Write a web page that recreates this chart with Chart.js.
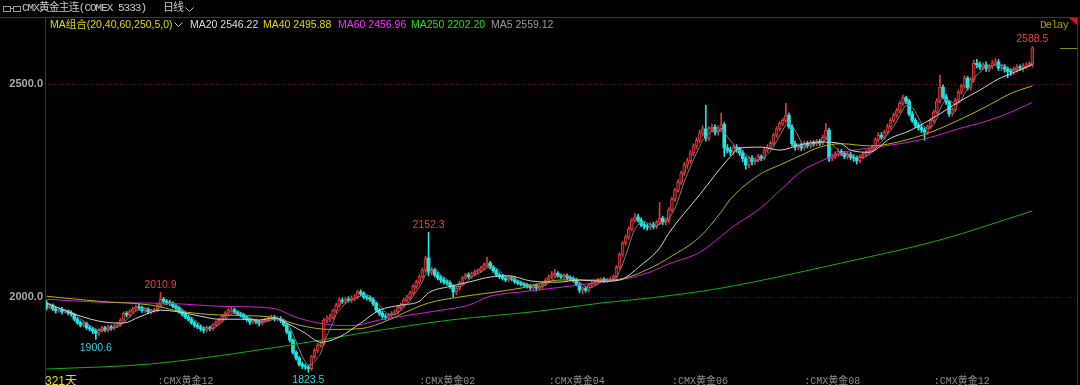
<!DOCTYPE html>
<html>
<head>
<meta charset="utf-8">
<script src="https://cdn.jsdelivr.net/npm/chart.js@4.4.1/dist/chart.umd.min.js"></script>
<style>
  html, body { margin: 0; padding: 0; background: #000; }
  #wrap { position: relative; width: 1080px; height: 385px; overflow: hidden; background: #000; }
  #c { position: absolute; left: 0; top: 0; }
  .t { position: absolute; white-space: nowrap; line-height: 1; }
  .mono { font-family: "Liberation Mono", "Noto Sans CJK SC", monospace; font-size: 11px; letter-spacing: -1px; }
  .lg { font-family: "Liberation Sans", "Noto Sans CJK SC", sans-serif; font-size: 10.5px; top: 19px; }
  .ln { position: absolute; background: #8e1212; }
</style>
</head>
<body>
<div id="wrap">
  <canvas id="c" width="1080" height="385"></canvas>

  <!-- header -->
  <div style="position:absolute;left:3px;top:6px;width:6px;height:4px;border:1px solid #9a9a9a;"></div>
  <div style="position:absolute;left:10px;top:8px;width:3px;height:1px;background:#9a9a9a;"></div>
  <div style="position:absolute;left:13px;top:6px;width:6px;height:4px;border:1px solid #9a9a9a;"></div>
  <div class="t mono" style="left:22px;top:3px;color:#c8c8c8;">CMX黄金主连(COMEX 5333)</div>
  <div class="t mono" style="left:163px;top:3px;color:#c8c8c8;">日线</div>
  <svg style="position:absolute;left:185px;top:7px" width="9" height="6"><polyline points="0.5,0.5 4.5,4.5 8.5,0.5" fill="none" stroke="#c8c8c8" stroke-width="1"/></svg>
  <div class="ln" style="left:0;top:17px;width:1080px;height:1px;"></div>
  <div class="ln" style="left:45px;top:17px;width:1px;height:368px;"></div>
  <div class="ln" style="left:1077px;top:17px;width:1px;height:368px;"></div>
  <div style="position:absolute;left:1069px;top:18px;width:0;height:0;border-top:7px solid #d01818;border-left:8px solid transparent;"></div>

  <!-- legend -->
  <div class="t lg" style="left:50px;color:#dcdc00;">MA组合(20,40,60,250,5,0)</div>
  <svg style="position:absolute;left:174px;top:22px" width="9" height="6"><polyline points="0.5,0.5 4.5,4.5 8.5,0.5" fill="none" stroke="#c8c8c8" stroke-width="1"/></svg>
  <div class="t lg" style="left:190px;color:#dcdcdc;">MA20 2546.22</div>
  <div class="t lg" style="left:263px;color:#dcdc00;">MA40 2495.88</div>
  <div class="t lg" style="left:338px;color:#ff2cff;">MA60 2456.96</div>
  <div class="t lg" style="left:411px;color:#1ee01e;">MA250 2202.20</div>
  <div class="t lg" style="left:491px;color:#9a9a9a;">MA5 2559.12</div>
  <div class="t mono" style="left:1040px;top:20px;color:#a0a000;">Delay</div>

  <div class="t" style="left:45px;top:371px;color:#e0e000;font:12px 'Liberation Sans','Noto Sans CJK SC',sans-serif;">321天</div>
</div>

<script>
// daily candles, oldest first (321 days)
var opens = [
  1986,1975,1980,1972,1968,1971,1965,1968,1963,1960,
  1948,1940,1934,1938,1928,1925,1920,1915,1922,1928,
  1924,1930,1927,1933,1935,1946,1962,1958,1966,1972,
  1977,1975,1968,1972,1965,1968,1970,1982,1995,1990,
  1987,1985,1978,1974,1966,1960,1953,1948,1940,1934,
  1930,1925,1922,1928,1926,1935,1941,1946,1955,1962,
  1969,1970,1965,1960,1958,1952,1947,1941,1945,1942,
  1939,1944,1946,1950,1953,1948,1950,1945,1935,1918,
  1899,1870,1857,1842,1838,1836,1832,1860,1875,1887,
  1890,1946,1948,1953,1968,1981,1993,1990,1995,1993,
  1998,2000,2012,2008,2000,1998,1995,1985,1969,1962,
  1955,1953,1958,1962,1965,1975,1981,1993,2000,2010,
  2025,2035,2048,2063,2092,2058,2063,2052,2045,2040,
  2035,2033,2025,2012,2020,2033,2045,2052,2048,2055,
  2059,2062,2068,2075,2080,2070,2062,2052,2048,2044,
  2040,2045,2042,2036,2033,2030,2028,2025,2022,2027,
  2021,2025,2030,2040,2047,2052,2056,2050,2047,2050,
  2045,2043,2040,2030,2016,2020,2016,2028,2032,2036,
  2040,2042,2038,2040,2043,2048,2070,2100,2127,2141,
  2160,2181,2188,2180,2170,2166,2164,2170,2165,2175,
  2185,2176,2180,2205,2230,2251,2270,2291,2310,2320,
  2338,2355,2368,2385,2395,2373,2395,2399,2387,2395,
  2405,2350,2345,2340,2352,2348,2338,2325,2310,2326,
  2318,2322,2330,2326,2345,2352,2361,2380,2395,2408,
  2415,2427,2400,2360,2352,2355,2350,2361,2356,2362,
  2360,2365,2362,2375,2392,2326,2330,2335,2342,2338,
  2330,2335,2328,2326,2320,2330,2335,2340,2345,2350,
  2370,2380,2375,2387,2400,2415,2427,2438,2455,2468,
  2460,2430,2415,2404,2398,2392,2387,2400,2415,2434,
  2460,2493,2470,2458,2430,2440,2462,2481,2495,2514,
  2491,2510,2549,2545,2540,2545,2537,2542,2550,2552,
  2538,2540,2535,2530,2528,2535,2540,2538,2543,2545,
  2546
];
var highs = [
  1992,1985,1984,1976,1975,1976,1972,1970,1968,1962,
  1952,1944,1942,1941,1933,1929,1924,1926,1932,1932,
  1934,1934,1937,1940,1950,1965,1966,1970,1976,1982,
  1983,1979,1976,1975,1971,1974,1986,2010.9,1999,1994,
  1992,1989,1982,1978,1970,1964,1957,1952,1944,1938,
  1934,1929,1932,1932,1938,1944,1950,1958,1966,1973,
  1976,1974,1968,1964,1962,1956,1950,1949,1948,1946,
  1948,1950,1954,1958,1957,1954,1954,1948,1938,1921,
  1902,1874,1860,1847,1843,1840,1863,1879,1891,1895,
  1950,1956,1960,1972,1985,1998,1998,2000,2001,2003,
  2006,2016,2017,2012,2005,2003,1999,1989,1974,1967,
  1960,1962,1966,1970,1979,1986,1997,2004,2014,2029,
  2040,2052,2068,2096,2152.3,2070,2068,2058,2050,2046,
  2040,2038,2028,2024,2037,2049,2056,2057,2059,2064,
  2066,2072,2080,2094,2084,2074,2066,2057,2053,2048,
  2050,2049,2046,2040,2037,2034,2032,2030,2031,2031,
  2029,2034,2044,2052,2060,2065,2060,2054,2054,2054,
  2050,2048,2044,2034,2024,2025,2031,2036,2039,2044,
  2046,2046,2044,2047,2052,2074,2104,2131,2146,2165,
  2185,2196,2194,2186,2176,2172,2175,2176,2180,2222,
  2190,2186,2210,2235,2256,2276,2296,2316,2326,2344,
  2360,2374,2392,2402,2450,2400,2406,2405,2402,2432,
  2410,2358,2352,2358,2358,2352,2344,2330,2330,2332,
  2327,2335,2334,2350,2358,2366,2385,2400,2412,2420,
  2455,2432,2405,2366,2360,2362,2366,2366,2368,2367,
  2370,2370,2380,2408,2397,2336,2341,2348,2347,2342,
  2340,2340,2334,2331,2334,2340,2345,2350,2356,2374,
  2386,2386,2392,2406,2420,2432,2443,2460,2474,2472,
  2464,2436,2420,2410,2404,2397,2404,2420,2439,2466,
  2521,2498,2476,2462,2445,2467,2486,2500,2520,2518,
  2515,2556,2558,2552,2550,2552,2546,2556,2560,2558,
  2546,2546,2540,2536,2540,2546,2545,2548,2550,2552,
  2588.5
];
var lows = [
  1970,1972,1968,1962,1964,1960,1962,1958,1955,1944,
  1936,1930,1930,1924,1920,1914,1900.6,1910,1918,1919,
  1918,1922,1923,1928,1931,1943,1953,1954,1962,1968,
  1970,1964,1964,1961,1960,1964,1966,1979,1985,1982,
  1980,1975,1969,1962,1955,1949,1944,1936,1929,1926,
  1920,1916,1918,1921,1922,1931,1937,1942,1951,1958,
  1964,1961,1956,1953,1948,1943,1936,1937,1937,1932,
  1935,1940,1942,1946,1944,1943,1940,1931,1914,1894,
  1866,1852,1838,1832,1830,1823.5,1828,1855,1870,1882,
  1886,1940,1943,1948,1963,1976,1985,1984,1988,1987,
  1992,1996,2003,1996,1993,1990,1980,1965,1957,1950,
  1946,1948,1953,1957,1960,1971,1977,1988,1995,2006,
  2020,2030,2044,2058,2050,2052,2047,2040,2034,2030,
  2028,2020,2000,2005,2016,2029,2041,2043,2044,2050,
  2054,2058,2064,2071,2066,2058,2048,2043,2040,2036,
  2036,2038,2032,2029,2026,2024,2021,2017,2018,2014,
  2016,2020,2026,2036,2043,2048,2046,2043,2042,2041,
  2038,2035,2026,2010,2007,2011,2012,2024,2028,2032,
  2035,2034,2034,2036,2039,2044,2066,2095,2122,2136,
  2155,2176,2176,2165,2160,2157,2158,2160,2161,2170,
  2170,2170,2175,2200,2224,2246,2264,2286,2302,2314,
  2332,2348,2362,2378,2366,2368,2388,2380,2380,2388,
  2330,2338,2332,2334,2340,2332,2318,2300,2304,2310,
  2312,2317,2320,2322,2340,2347,2356,2375,2390,2403,
  2410,2396,2355,2345,2346,2344,2346,2350,2350,2354,
  2355,2356,2358,2370,2318,2320,2325,2330,2332,2325,
  2324,2322,2318,2312,2315,2325,2330,2336,2340,2346,
  2365,2370,2370,2382,2395,2410,2422,2433,2450,2454,
  2425,2410,2398,2392,2386,2368,2382,2395,2410,2430,
  2455,2465,2452,2424,2425,2435,2457,2476,2490,2486,
  2486,2505,2538,2534,2533,2530,2530,2536,2544,2532,
  2532,2528,2515,2520,2522,2528,2532,2530,2536,2540,
  2540
];
var closes = [
  1975,1980,1972,1968,1971,1965,1968,1963,1960,1948,
  1940,1934,1938,1928,1925,1920,1915,1922,1928,1924,
  1930,1927,1933,1935,1946,1962,1958,1966,1972,1977,
  1975,1968,1972,1965,1968,1970,1982,1995,1990,1987,
  1985,1978,1974,1966,1960,1953,1948,1940,1934,1930,
  1925,1922,1928,1926,1935,1941,1946,1955,1962,1969,
  1970,1965,1960,1958,1952,1947,1941,1945,1942,1939,
  1944,1946,1950,1953,1948,1950,1945,1935,1918,1899,
  1870,1857,1842,1838,1836,1832,1860,1875,1887,1890,
  1946,1948,1953,1968,1981,1993,1990,1995,1993,1998,
  2000,2012,2008,2000,1998,1995,1985,1969,1962,1955,
  1953,1958,1962,1965,1975,1981,1993,2000,2010,2025,
  2035,2048,2063,2090,2058,2063,2052,2045,2040,2035,
  2033,2025,2012,2020,2033,2045,2052,2048,2055,2059,
  2062,2068,2075,2080,2070,2062,2052,2048,2044,2040,
  2045,2042,2036,2033,2030,2028,2025,2022,2027,2021,
  2025,2030,2040,2047,2052,2056,2050,2047,2050,2045,
  2043,2040,2030,2016,2020,2016,2028,2032,2036,2040,
  2042,2038,2040,2043,2048,2070,2100,2127,2141,2160,
  2181,2188,2180,2170,2166,2164,2170,2165,2175,2185,
  2176,2180,2205,2230,2251,2270,2291,2310,2320,2338,
  2355,2368,2385,2395,2373,2395,2399,2387,2395,2405,
  2350,2345,2340,2352,2348,2338,2325,2310,2326,2318,
  2322,2330,2326,2345,2352,2361,2380,2395,2408,2415,
  2427,2400,2360,2352,2355,2350,2361,2356,2362,2360,
  2365,2362,2375,2392,2326,2330,2335,2342,2338,2330,
  2335,2328,2326,2320,2330,2335,2340,2345,2350,2370,
  2380,2375,2387,2400,2415,2427,2438,2455,2468,2460,
  2430,2415,2404,2398,2392,2387,2400,2415,2434,2460,
  2493,2470,2458,2430,2440,2462,2481,2495,2514,2491,
  2510,2549,2545,2540,2545,2537,2542,2550,2552,2538,
  2540,2535,2530,2528,2535,2540,2538,2543,2545,2548,
  2585
];

// moving averages: [day index, value]
var ma20 = [[0,1986],[9,1960],[19,1941],[25,1939],[30,1953],[37,1969],[43,1965],[50,1955],[56,1948],
  [63,1948],[69,1946],[74,1951],[78,1939],[84,1915],[89,1894],[95,1906],[102,1939],[108,1969],[115,1981],
  [121,1990],[124,2010],[131,2025],[137,2035],[144,2047],[150,2050],[157,2038],[166,2035],[173,2040],
  [180,2037],[186,2040],[193,2075],[199,2115],[202,2150],[212,2240],[222,2330],[225,2350],[232,2352],
  [238,2345],[245,2358],[251,2364],[258,2360],[261,2345],[267,2340],[274,2373],[280,2390],[290,2430],
  [296,2458],[303,2486],[309,2512],[316,2533],[320,2546.22]];
var ma40 = [[0,2002],[17,1990],[34,1981],[43,1967],[56,1958],[73,1953],[82,1934],[92,1924],[102,1926],
  [111,1946],[118,1969],[124,1986],[134,2000],[144,2010],[154,2021],[167,2040],[180,2040],[186,2042],
  [196,2068],[202,2092],[212,2141],[219,2200],[222,2230],[232,2290],[238,2310],[245,2333],[251,2352],
  [258,2360],[267,2355],[283,2377],[296,2415],[306,2451],[313,2478],[320,2495.88]];
var ma60 = [[0,1995],[17,1988],[40,1985],[58,1978],[73,1974],[82,1950],[92,1935],[99,1933],[108,1946],
  [118,1958],[128,1969],[137,1981],[144,2002],[154,2012],[167,2023],[180,2035],[186,2040],[196,2059],
  [202,2078],[212,2105],[223,2166],[232,2210],[238,2250],[245,2295],[251,2318],[259,2340],[267,2350],
  [277,2360],[287,2375],[296,2395],[306,2415],[313,2434],[320,2456.96]];
var ma250 = [[0,1831],[34,1843],[79,1887],[102,1915],[131,1946],[160,1967],[180,1986],[196,1998],
  [219,2021],[258,2080],[290,2134],[320,2202.20]];

var yTicks = [2000, 2500];
var xTickIdx = [36, 121, 163, 203, 246, 288];
var xTickText = [':CMX黄金12', ':CMX黄金02', ':CMX黄金04', ':CMX黄金06', ':CMX黄金08', ':CMX黄金12'];
var markHigh = [37, 124, 320];
var markLow = [16, 85];

var UP = '#d83c3c', UPFILL = '#5a1414', DOWN = '#1ee6e6';

var up = closes.map(function(c, i) { return c >= opens[i]; });
var bodyData = closes.map(function(c, i) { return {x: i, y: [opens[i], c]}; });
var wickData = closes.map(function(c, i) { return {x: i, y: [lows[i], highs[i]]}; });
var ma5 = [];
for (var i = 4; i < closes.length; i++) {
  var s = 0;
  for (var k = i - 4; k <= i; k++) s += closes[k];
  ma5.push({x: i, y: s / 5});
}
function pts(a) { return a.map(function(p) { return {x: p[0], y: p[1]}; }); }
function maLine(data, color, order) {
  return { type: 'line', data: data, borderColor: color, borderWidth: 1, pointRadius: 0,
           cubicInterpolationMode: 'monotone', order: order };
}

var markPlugin = {
  id: 'marks',
  afterDatasetsDraw: function(chart) {
    var ctx = chart.ctx, x = chart.scales.x, y = chart.scales.y;
    ctx.save();
    ctx.font = '10.5px "Liberation Sans", sans-serif';
    ctx.textAlign = 'center';
    markHigh.forEach(function(i) {
      ctx.fillStyle = '#e8413c';
      ctx.textBaseline = 'bottom';
      ctx.fillText(highs[i].toFixed(1), x.getPixelForValue(i), y.getPixelForValue(highs[i]) - 2);
    });
    markLow.forEach(function(i) {
      ctx.fillStyle = '#2fd6dc';
      ctx.textBaseline = 'top';
      ctx.fillText(lows[i].toFixed(1), x.getPixelForValue(i), y.getPixelForValue(lows[i]) + 3);
    });
    // last price marker on the right edge
    var ly = Math.round(y.getPixelForValue(closes[closes.length - 1])) + 0.5;
    ctx.strokeStyle = '#8a8a00';
    ctx.lineWidth = 1;
    ctx.beginPath(); ctx.moveTo(1060, ly); ctx.lineTo(1077, ly); ctx.stroke();
    ctx.restore();
  }
};

Chart.defaults.font.family = '"Liberation Sans", sans-serif';

var chart = new Chart(document.getElementById('c').getContext('2d'), {
  data: {
    datasets: [
      { type: 'bar', data: wickData, grouped: false, barThickness: 1, order: 6,
        backgroundColor: up.map(function(u) { return u ? UP : DOWN; }) },
      { type: 'bar', data: bodyData, grouped: false, barThickness: 3, order: 5, borderSkipped: false,
        backgroundColor: up.map(function(u) { return u ? UPFILL : DOWN; }),
        borderColor: up.map(function(u) { return u ? UP : DOWN; }),
        borderWidth: up.map(function(u) { return u ? 1 : 0; }) },
      maLine(pts(ma250), '#0fb00f', 4),
      maLine(pts(ma60), '#d21ed2', 3),
      maLine(pts(ma40), '#b4b400', 2),
      maLine(ma5, '#808080', 1),
      maLine(pts(ma20), '#d2d2d2', 0)
    ]
  },
  options: {
    responsive: false,
    animation: false,
    layout: { padding: { top: 30, right: 3, left: 0, bottom: 0 } },
    plugins: { legend: { display: false }, tooltip: { enabled: false } },
    scales: {
      x: {
        type: 'linear', min: -0.5, max: 334.5, bounds: 'data', offset: false,
        afterFit: function(s) { s.height = 10; s.paddingLeft = 0; s.paddingRight = 0; },
        afterBuildTicks: function(s) { s.ticks = xTickIdx.map(function(v) { return {value: v}; }); },
        ticks: {
          autoSkip: false, maxRotation: 0, align: 'start', padding: 0, color: '#8c8c8c',
          font: { size: 10, family: '"Liberation Mono", "Noto Sans CJK SC", monospace' },
          callback: function(v) { var k = xTickIdx.indexOf(v); return k < 0 ? '' : xTickText[k]; }
        },
        grid: { display: false, drawTicks: false, offset: false },
        border: { display: false }
      },
      y: {
        min: 1817, max: 2627, bounds: 'data',
        afterFit: function(s) { s.width = 45; },
        afterBuildTicks: function(s) { s.ticks = yTicks.map(function(v) { return {value: v}; }); },
        ticks: { color: '#a8a8a8', padding: 2, font: { size: 11, weight: 'bold' },
                 callback: function(v) { return Number(v).toFixed(1); } },
        grid: { color: '#7a1010', drawTicks: false, lineWidth: 1 },
        border: { display: false, dash: [1, 2] }
      }
    }
  },
  plugins: [markPlugin]
});
</script>
</body>
</html>
